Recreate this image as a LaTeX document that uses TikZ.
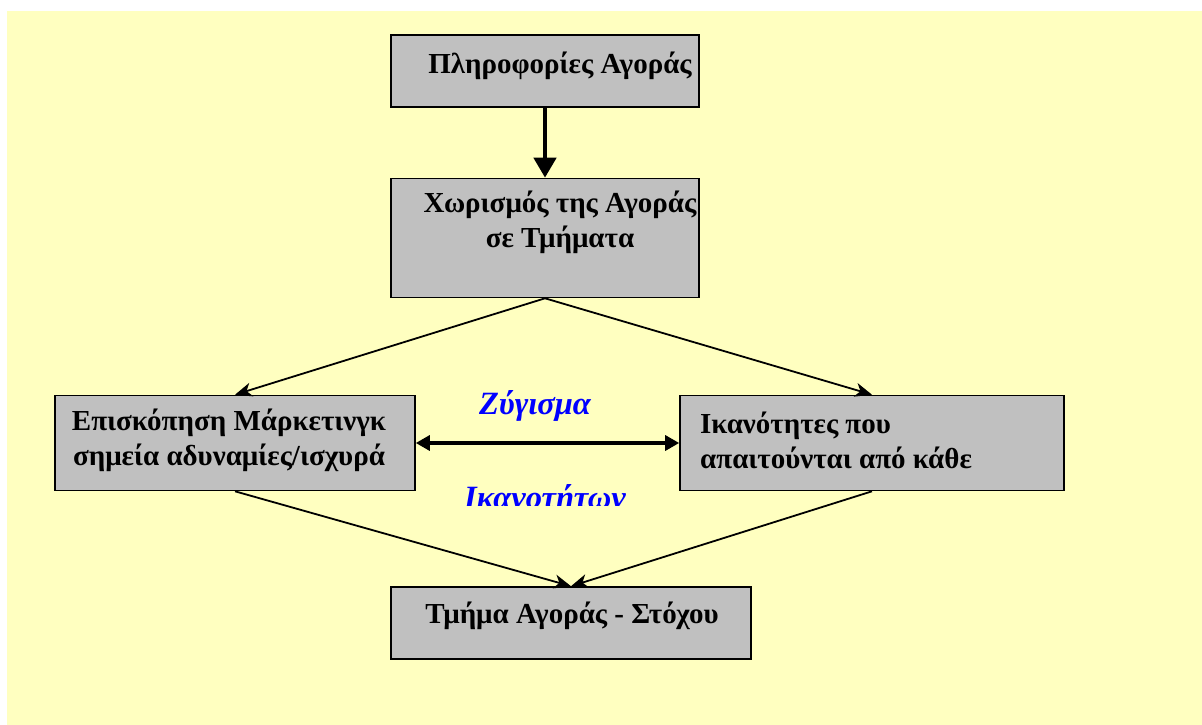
\documentclass[tikz,border=0pt]{standalone}
\usepackage{fontspec}
\setmainfont{Liberation Serif}
\usepackage{tikz}
\usetikzlibrary{arrows.meta}

\definecolor{paleyellow}{RGB}{255,255,192}
\definecolor{boxgray}{RGB}{192,192,192}
\definecolor{labelblue}{RGB}{0,0,255}

\tikzset{
  stagebox/.style={draw=black,line width=1.6pt,fill=boxgray,inner sep=0pt},
  boxtext/.style={align=center,font=\fontsize{29}{35}\selectfont\bfseries,inner sep=0pt},
  flow/.style={line width=1.8pt,-{Stealth[length=17pt,width=14pt,inset=5pt]}},
  balance/.style={font=\fontsize{32.5}{36}\selectfont\bfseries\itshape,text=labelblue,inner sep=0pt}
}

\begin{document}
\begin{tikzpicture}[x=1pt,y=-1pt]
  \useasboundingbox (0,0) rectangle (1202,725);
  \fill[white] (0,0) rectangle (1202,725);
  \fill[paleyellow] (7,11) rectangle (1202,725);

  % boxes
  \node[stagebox,minimum width=308pt,minimum height=72pt] (info) at (545,71) {};
  \node[stagebox,minimum width=308pt,minimum height=119pt] (seg) at (545,238) {};
  \node[stagebox,minimum width=360pt,minimum height=95pt] (review) at (235,443) {};
  \node[stagebox,minimum width=384pt,minimum height=95pt] (skills) at (872,443) {};
  \node[stagebox,minimum width=360pt,minimum height=72pt] (target) at (571,623) {};

  % box texts
  \node[boxtext] (infotext) at (560,66) {Πληροφορίες Αγοράς};
  \node[boxtext] (segtext) at (560,222) {Χωρισμός της Αγοράς\\σε Τμήματα};
  \node[boxtext] (reviewtext) at (229,440) {Επισκόπηση Μάρκετινγκ\\σημεία αδυναμίες/ισχυρά};
  \node[boxtext,align=left,anchor=west] (skillstext) at (700,440) {Ικανότητες που\\απαιτούνται από κάθε};
  \node[boxtext] (targettext) at (572,616) {Τμήμα Αγοράς - Στόχου};

  % labels
  \node[balance,anchor=base] (weigh) at (535,414) {Ζύγισμα};
  \begin{scope}
    \clip (440,470) rectangle (660,505);
    \node[balance,anchor=base] (skillword) at (545,508) {Ικανοτήτων};
  \end{scope}

  % connectors
  \draw[line width=4.5pt,-{Triangle[length=20pt,width=22pt]}] (info) -- (seg);
  \draw[flow] (seg.south) -- (review.north);
  \draw[flow] (seg.south) -- (skills.north);
  \draw[line width=3.2pt,{Triangle[length=14pt,width=15pt]}-{Triangle[length=14pt,width=15pt]}] (review) -- (skills);
  \draw[flow] (review.south) -- (target.north);
  \draw[flow] (skills.south) -- (target.north);
\end{tikzpicture}
\end{document}
